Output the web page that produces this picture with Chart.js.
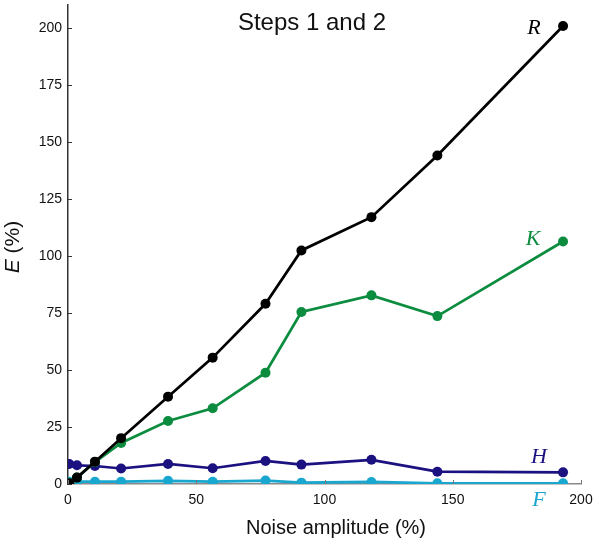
<!DOCTYPE html>
<html>
<head>
<meta charset="utf-8">
<script src="https://cdn.jsdelivr.net/npm/chart.js@4"></script>
<style>
  html, body { margin: 0; padding: 0; background: #fff; }
  #wrap { width: 600px; height: 544px; }
</style>
</head>
<body>
<div id="wrap"><canvas id="lineChart"></canvas></div>
<script>
Chart.defaults.font.family = 'Arial, "Liberation Sans", sans-serif'
Chart.defaults.font.size = 14
Chart.defaults.color = '#111'

// noise amplitude (%) for every step
const noise = [0.5, 3.5, 10.5, 20.7, 39, 56.4, 77, 91, 118.3, 144, 193]
const errR = [0.3, 2.8, 9.8, 20.1, 38.3, 55.4, 79, 102.4, 117, 144, 200.8]
const errK = [0.3, 2.8, 9.6, 18, 27.6, 33.2, 48.8, 75.4, 82.7, 73.6, 106.3]
const errH = [8.8, 8.2, 7.9, 6.8, 8.8, 6.9, 10.1, 8.5, 10.6, 5.4, 5.1]
const errF = [1, 1, 1, 1, 1.4, 1, 1.5, 0.6, 0.9, 0.3, 0.3]

const xTicks = [0, 50, 100, 150, 200]
const yTicks = [0, 25, 50, 75, 100, 125, 150, 175, 200]

const colR = '#000000'
const colK = '#0c8c3f'
const colH = '#1b1180'
const colF = '#1aa7cf'

const toPoints = (ys) => noise.map((x, i) => ({ x: x, y: ys[i] }))

const makeSet = (label, ys, color) => ({
  label: label,
  data: toPoints(ys),
  borderColor: color,
  backgroundColor: color,
  pointBackgroundColor: color,
  pointBorderColor: color,
  pointBorderWidth: 0,
  borderWidth: 2.7,
  pointRadius: 5,
  pointHoverRadius: 5,
  tension: 0,
  fill: false
})

// inward tick marks, axis titles, series letters and the caption
const decorations = {
  id: 'decorations',
  afterDraw(chart) {
    const ctx = chart.ctx
    const xs = chart.scales.x
    const ys = chart.scales.y
    const area = chart.chartArea
    ctx.save()

    ctx.lineWidth = 1
    ctx.strokeStyle = '#333'
    yTicks.forEach((v) => {
      const py = Math.round(ys.getPixelForValue(v)) + 0.5
      ctx.beginPath()
      ctx.moveTo(area.left, py)
      ctx.lineTo(area.left + 4, py)
      ctx.stroke()
    })
    ctx.strokeStyle = '#777'
    xTicks.forEach((v) => {
      const px = Math.round(xs.getPixelForValue(v)) + 0.5
      ctx.beginPath()
      ctx.moveTo(px, area.bottom)
      ctx.lineTo(px, area.bottom - 4)
      ctx.stroke()
    })

    ctx.fillStyle = '#111'
    ctx.textAlign = 'center'
    ctx.textBaseline = 'middle'
    ctx.font = '24px Arial, "Liberation Sans", sans-serif'
    ctx.fillText('Steps 1 and 2', 312, 23)

    ctx.font = '20px Arial, "Liberation Sans", sans-serif'
    ctx.fillText('Noise amplitude (%)', 336, 528)

    // y title, rotated, with italic E
    ctx.save()
    ctx.translate(13, 247)
    ctx.rotate(-Math.PI / 2)
    ctx.textAlign = 'left'
    ctx.font = 'italic 21px Arial, "Liberation Sans", sans-serif'
    const eW = ctx.measureText('E').width
    ctx.font = '21px Arial, "Liberation Sans", sans-serif'
    const restW = ctx.measureText(' (%)').width
    const start = -(eW + restW) / 2
    ctx.font = 'italic 21px Arial, "Liberation Sans", sans-serif'
    ctx.fillText('E', start, 0)
    ctx.font = '21px Arial, "Liberation Sans", sans-serif'
    ctx.fillText(' (%)', start + eW, 0)
    ctx.restore()

    ctx.font = 'italic 22px "Liberation Serif", "DejaVu Serif", serif'
    const letters = [['R', 534, 28, colR], ['K', 533, 239, colK], ['H', 539, 457, colH], ['F', 539, 500, colF]]
    letters.forEach(([t, x, y, c]) => {
      ctx.fillStyle = c
      ctx.fillText(t, x, y)
    })
    ctx.restore()
  }
}

const renderLineChart = () => {
  const lineChart = document.getElementById('lineChart')

  new Chart(lineChart, {
    type: 'line',
    data: {
      datasets: [
        makeSet('R', errR, colR),
        makeSet('K', errK, colK),
        makeSet('F', errF, colF),
        makeSet('H', errH, colH)
      ]
    },
    options: {
      responsive: true,
      maintainAspectRatio: false,
      animation: false,
      layout: {
        padding: { top: 5, right: 19, left: 0, bottom: 0 }
      },
      plugins: {
        legend: { display: false },
        tooltip: { enabled: false }
      },
      scales: {
        x: {
          type: 'linear',
          min: 0,
          max: 200,
          grid: { display: false, drawTicks: false },
          border: { display: true, color: '#8a8a8a', width: 1.5 },
          afterBuildTicks: (scale) => {
            scale.ticks = xTicks.map((v) => ({ value: v }))
          },
          afterFit: (scale) => {
            scale.height = 60
            scale.paddingLeft = 0
            scale.paddingRight = 0
          },
          ticks: {
            padding: 8,
            maxRotation: 0,
            color: '#111',
            font: { size: 14 }
          }
        },
        y: {
          type: 'linear',
          min: 0,
          max: 210,
          grid: { display: false, drawTicks: false },
          border: { display: true, color: '#333', width: 1.5 },
          afterBuildTicks: (scale) => {
            scale.ticks = yTicks.map((v) => ({ value: v }))
          },
          afterFit: (scale) => {
            scale.width = 68
            scale.paddingTop = 0
            scale.paddingBottom = 0
          },
          ticks: {
            padding: 6,
            color: '#111',
            font: { size: 14 }
          }
        }
      }
    },
    plugins: [decorations]
  })
}

document.addEventListener('DOMContentLoaded', () => {
  renderLineChart()
})
</script>
</body>
</html>
